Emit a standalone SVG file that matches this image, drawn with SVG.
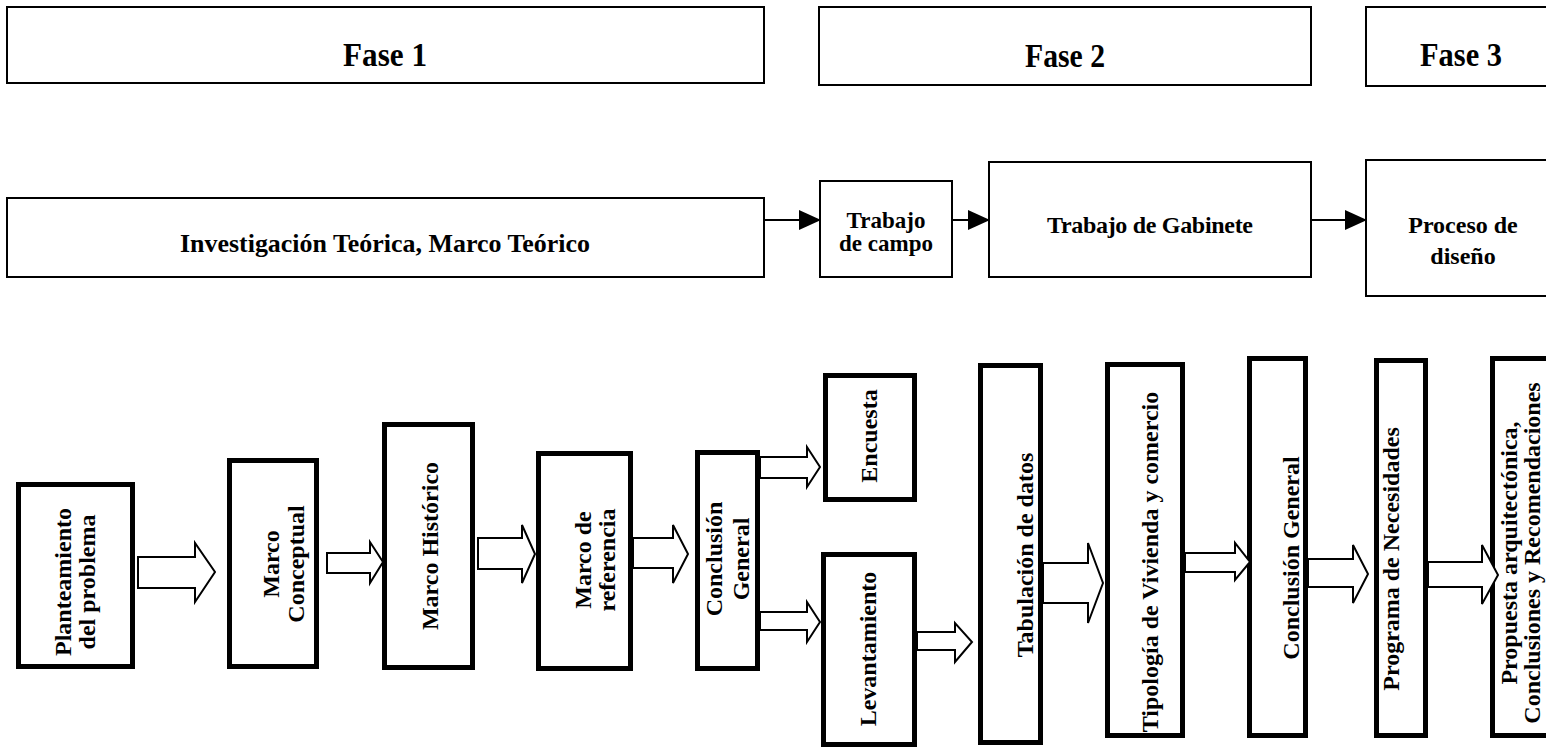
<svg xmlns="http://www.w3.org/2000/svg" width="1546" height="748" viewBox="0 0 1546 748">
<defs>
<style>
.bg{fill:#ffffff}
.thin{fill:#ffffff;stroke:#000;stroke-width:2}
.thick{fill:#ffffff;stroke:#000;stroke-width:5}
.blk{fill:#ffffff;stroke:#000;stroke-width:2;stroke-linejoin:miter}
.con{stroke:#000;stroke-width:2;fill:none}
text{font-family:"Liberation Serif","Times New Roman",serif;font-weight:bold;fill:#000;text-anchor:middle}
.fase{font-size:33px}
.mid{font-size:23px}
.bot{font-size:24px}
</style>
<marker id="tri" markerUnits="userSpaceOnUse" markerWidth="22" markerHeight="20" refX="21" refY="10" orient="auto">
<path d="M0,0 L22,10 L0,20 z" fill="#000"/>
</marker>
</defs>
<rect class="bg" x="0" y="0" width="1546" height="748"/>

<!-- Top row -->
<g id="fase1"><rect class="thin" x="7" y="7" width="757" height="76"/><text class="fase" x="385" y="66" textLength="84" lengthAdjust="spacingAndGlyphs">Fase 1</text></g>
<g id="fase2"><rect class="thin" x="819" y="7" width="492" height="78"/><text class="fase" x="1065" y="67" textLength="80" lengthAdjust="spacingAndGlyphs">Fase 2</text></g>
<g id="fase3"><rect class="thin" x="1366" y="7" width="190" height="79"/><text class="fase" x="1461" y="66" textLength="82" lengthAdjust="spacingAndGlyphs">Fase 3</text></g>

<!-- Middle row -->
<g id="investigacion"><rect class="thin" x="7" y="198" width="757" height="79"/><text style="font-size:26px" x="385" y="252" textLength="410" lengthAdjust="spacingAndGlyphs">Investigación Teórica, Marco Teórico</text></g>
<g id="trabajo-campo"><rect class="thin" x="820" y="181" width="132" height="96"/><text class="mid" x="886" y="228">Trabajo</text><text class="mid" x="886" y="251">de campo</text></g>
<g id="trabajo-gabinete"><rect class="thin" x="989" y="162" width="322" height="115"/><text style="font-size:24px" x="1150" y="233" textLength="206" lengthAdjust="spacing">Trabajo de Gabinete</text></g>
<g id="proceso-diseno"><rect class="thin" x="1366" y="160" width="190" height="136"/><text class="bot" x="1463" y="233">Proceso de</text><text class="bot" x="1463" y="264">diseño</text></g>

<!-- Bottom row -->
<g id="planteamiento"><rect class="thick" x="18.5" y="484.5" width="114" height="182"/>
<text class="bot" transform="translate(71,582) rotate(-90)"><tspan x="0" y="0">Planteamiento</tspan><tspan x="0" y="24">del problema</tspan></text></g>
<g id="marco-conceptual"><rect class="thick" x="229.5" y="460.5" width="87" height="206"/>
<text class="bot" transform="translate(279,564) rotate(-90)"><tspan x="0" y="0">Marco</tspan><tspan x="0" y="25">Conceptual</tspan></text></g>
<g id="marco-historico"><rect class="thick" x="384.5" y="424.5" width="88" height="243"/>
<text class="bot" transform="translate(438,546) rotate(-90)">Marco Histórico</text></g>
<g id="marco-referencia"><rect class="thick" x="538.5" y="453.5" width="92" height="215"/>
<text class="bot" transform="translate(591,560) rotate(-90)"><tspan x="0" y="0">Marco de</tspan><tspan x="0" y="24">referencia</tspan></text></g>
<g id="conclusion-general-1"><rect class="thick" x="697.5" y="452.5" width="60" height="216"/>
<text class="bot" transform="translate(722,559) rotate(-90)"><tspan x="0" y="0">Conclusión</tspan><tspan x="0" y="27">General</tspan></text></g>
<g id="encuesta"><rect class="thick" x="825.5" y="375.5" width="89" height="124"/>
<text class="bot" transform="translate(877,436) rotate(-90)">Encuesta</text></g>
<g id="levantamiento"><rect class="thick" x="823.5" y="554.5" width="91" height="190"/>
<text class="bot" transform="translate(876,649) rotate(-90)">Levantamiento</text></g>
<g id="tabulacion"><rect class="thick" x="980.5" y="365.5" width="60" height="377"/>
<text class="bot" transform="translate(1033,555) rotate(-90)">Tabulación de datos</text></g>
<g id="tipologia"><rect class="thick" x="1107.5" y="364.5" width="75" height="371"/>
<text class="bot" transform="translate(1158,562) rotate(-90)">Tipología de Vivienda y comercio</text></g>
<g id="conclusion-general-2"><rect class="thick" x="1249.5" y="358.5" width="56" height="377"/>
<text class="bot" transform="translate(1299,558) rotate(-90)">Conclusión General</text></g>
<g id="programa"><rect class="thick" x="1376.5" y="360.5" width="49" height="375"/>
<text class="bot" transform="translate(1399,559) rotate(-90)">Programa de Necesidades</text></g>
<g id="propuesta"><rect class="thick" x="1492.5" y="358.5" width="60" height="377"/>
<text class="bot" transform="translate(1517,553) rotate(-90)"><tspan x="0" y="0">Propuesta arquitectónica,</tspan><tspan x="0" y="23">Conclusiones y Recomendaciones</tspan></text></g>

<!-- Connectors -->
<g id="connectors">
<line class="con" x1="764" y1="220" x2="820" y2="220" marker-end="url(#tri)"/>
<line class="con" x1="952" y1="220" x2="989" y2="220" marker-end="url(#tri)"/>
<line class="con" x1="1311" y1="220" x2="1366" y2="220" marker-end="url(#tri)"/>
<polygon class="blk" points="138,557 195,557 195,543 215,572 195,602 195,588 138,588"/>
<polygon class="blk" points="327,553 370,553 370,542 383,562 370,583 370,573 327,573"/>
<polygon class="blk" points="478,538 522,538 522,525 535,554 522,583 522,569 478,569"/>
<polygon class="blk" points="633,538 673,538 673,525 688,554 673,583 673,568 633,568"/>
<polygon class="blk" points="760,457 807,457 807,447 820,467 807,487 807,478 760,478"/>
<polygon class="blk" points="760,612 807,612 807,602 820,622 807,642 807,630 760,630"/>
<polygon class="blk" points="917,632 955,632 955,623 972,642 955,662 955,650 917,650"/>
<polygon class="blk" points="1043,563 1088,563 1088,543 1103,583 1088,623 1088,603 1043,603"/>
<polygon class="blk" points="1185,553 1235,553 1235,543 1250,562 1235,580 1235,572 1185,572"/>
<polygon class="blk" points="1308,559 1353,559 1353,545 1368,574 1353,603 1353,587 1308,587"/>
<polygon class="blk" points="1428,562 1482,562 1482,545 1498,575 1482,604 1482,587 1428,587"/>
</g>
</svg>
